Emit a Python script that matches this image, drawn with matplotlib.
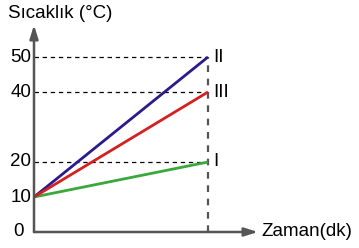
import matplotlib
matplotlib.use("Agg")
import matplotlib.pyplot as plt

plt.rcParams['font.family'] = ['Liberation Sans', 'DejaVu Sans']

# data
t_end = 1.0
start_temp = 10
series_names = ["I", "II", "III"]
end_temps = [20, 50, 40]
colors = ["#3aa83a", "#2a1a8c", "#d42020"]
yticks = [0, 10, 20, 40, 50]

FS = 13.5
W, H = 359, 248
fig = plt.figure(figsize=(W/100, H/100), dpi=100)
x0, y0 = 34, 232
xend_px, yarrow_px = 258, 25
ax = fig.add_axes([x0/W, (H-y0)/H, (xend_px-x0)/W, (y0-yarrow_px)/H])
px_per_x = 174
px_per_y = 3.5
ax.set_xlim(0, (xend_px-x0)/px_per_x)
ax.set_ylim(0, (y0-yarrow_px)/px_per_y)
ax.axis('off')

# dashed guides
for v in [20, 40, 50]:
    ax.plot([0, t_end], [v, v], color='black', lw=0.9, ls=(0, (3.5, 3)), zorder=1)
ax.plot([t_end, t_end], [0, 50], color='#555555', lw=1.6, ls=(0, (3, 3)), zorder=1)

# series
for name, e, c in zip(series_names, end_temps, colors):
    ax.plot([0, t_end], [start_temp, e], color=c, lw=2.0, zorder=3, solid_capstyle='butt')
    ax.text(t_end + 0.03, e, name, fontsize=FS, va='center', ha='left')

# axes with arrows
ax.annotate('', xy=(ax.get_xlim()[1], 0), xytext=(0, 0),
            arrowprops=dict(arrowstyle='-|>,head_length=0.8,head_width=0.25', color='#555555', lw=1.8,
                            shrinkA=0, shrinkB=0), annotation_clip=False)
ax.annotate('', xy=(0, ax.get_ylim()[1]), xytext=(0, 0),
            arrowprops=dict(arrowstyle='-|>,head_length=0.8,head_width=0.25', color='#555555', lw=1.8,
                            shrinkA=0, shrinkB=0), annotation_clip=False)

for v in yticks:
    off = -0.057 if v == 0 else -0.017
    ax.text(off, v, str(v), fontsize=FS, ha='right', va='center')

ax.text(ax.get_xlim()[1] + 0.02, 0, 'Zaman(dk)', fontsize=FS, ha='left', va='center')
fig.text(8/W, 1 - 14/H, 'Sıcaklık (°C)', fontsize=FS, ha='left', va='center')

fig.savefig('out.png', dpi=100)
